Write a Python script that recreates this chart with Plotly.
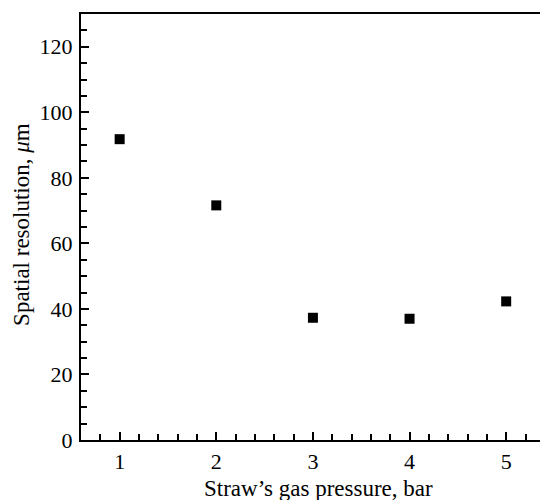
import plotly.graph_objects as go

pressure_bar = [1, 2, 3, 4, 5]
resolution_um = [91.8, 71.6, 37.3, 37.0, 42.3]
x_tick_vals = [1, 2, 3, 4, 5]
y_tick_vals = [0, 20, 40, 60, 80, 100, 120]
x_title = "Straw’s gas pressure, bar"
y_title = "Spatial resolution, <i>μ</i>m"

fig = go.Figure()
fig.add_trace(go.Scatter(
    x=pressure_bar, y=resolution_um, mode="markers",
    marker=dict(symbol="square", size=10, color="black", line=dict(width=0)),
    showlegend=False,
))

font_family = "Liberation Serif, Times New Roman, serif"
fig.update_layout(
    width=540, height=500,
    margin=dict(l=81, r=0, t=14, b=60),
    paper_bgcolor="white", plot_bgcolor="white",
    font=dict(family=font_family, size=22, color="black"),
    xaxis=dict(
        range=[0.6, 5.35], tickvals=x_tick_vals, ticks="inside", ticklen=8, tickwidth=1.5,
        tickcolor="black", showgrid=False, zeroline=False, automargin=False,
        showline=True, linecolor="black", linewidth=2, mirror=True,
        minor=dict(dtick=0.2, tick0=0, ticks="inside", ticklen=6, tickwidth=1.5, tickcolor="black"),
        tickfont=dict(size=22), ticklabelstandoff=1,
    ),
    yaxis=dict(
        range=[0, 130], tickvals=y_tick_vals, ticks="inside", ticklen=8, tickwidth=1.5,
        tickcolor="black", showgrid=False, zeroline=False, automargin=False,
        showline=True, linecolor="black", linewidth=2,
        minor=dict(dtick=5, tick0=0, ticks="inside", ticklen=6, tickwidth=1.5, tickcolor="black"),
        tickfont=dict(size=22), ticklabelstandoff=2,
    ),
    annotations=[
        dict(text=x_title, xref="paper", yref="paper", x=0.5185, y=-0.113,
             xanchor="center", yanchor="middle", showarrow=False, font=dict(size=23)),
        dict(text=y_title, xref="paper", yref="paper", x=-0.1285, y=0.505,
             xanchor="center", yanchor="middle", showarrow=False, textangle=-90,
             font=dict(size=23)),
    ],
)

fig.write_html("out.html", config={"displayModeBar": False},
               post_script="document.body.style.margin='0';")
